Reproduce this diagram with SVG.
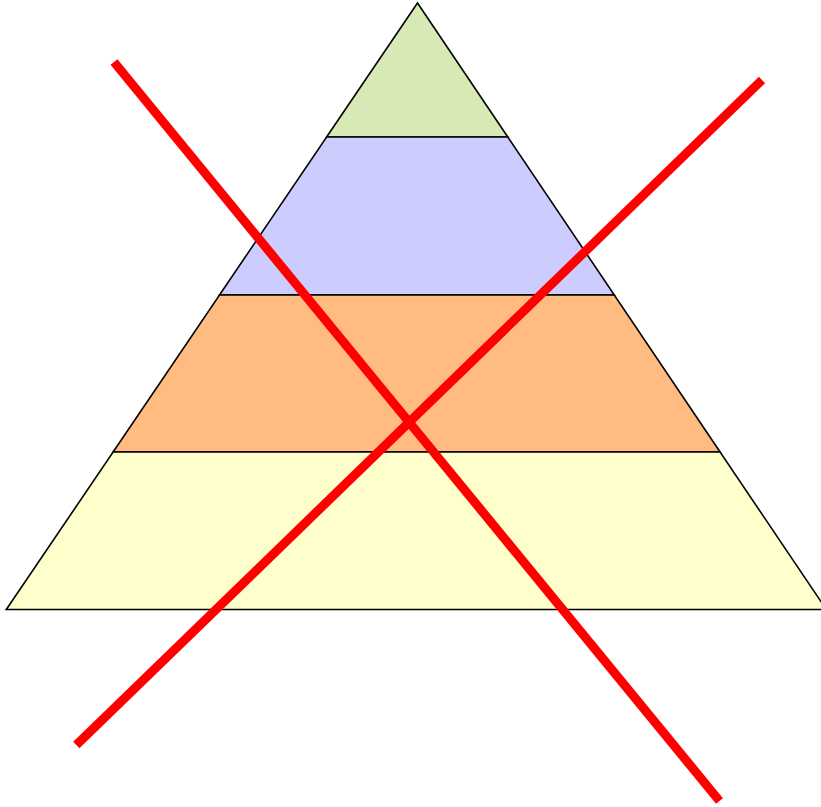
<svg xmlns="http://www.w3.org/2000/svg" width="821" height="807" viewBox="0 0 821 807">
<style>
.band{stroke:#000;stroke-width:1.6;stroke-linejoin:miter}
.cross{stroke:#ff0000;stroke-width:9;stroke-linecap:butt;fill:none}
</style>
<rect width="821" height="807" fill="#fff"/>
<g id="level1"><polygon class="band" fill="#d7e9b4" points="417.5,3 507.8,137 326.6,137"/></g>
<g id="level2"><polygon class="band" fill="#ccccff" points="326.6,137 507.8,137 614.3,295 219.5,295"/></g>
<g id="level3"><polygon class="band" fill="#ffbb80" points="219.5,295 614.3,295 720.1,452 113.1,452"/></g>
<g id="level4"><polygon class="band" fill="#ffffcc" points="113.1,452 720.1,452 826.3,609.5 6.3,609.5"/></g>
<g id="connectors">
<line class="cross" x1="114" y1="62" x2="719.5" y2="801"/>
<line class="cross" x1="762" y1="80" x2="76.3" y2="745"/>
</g>
</svg>
